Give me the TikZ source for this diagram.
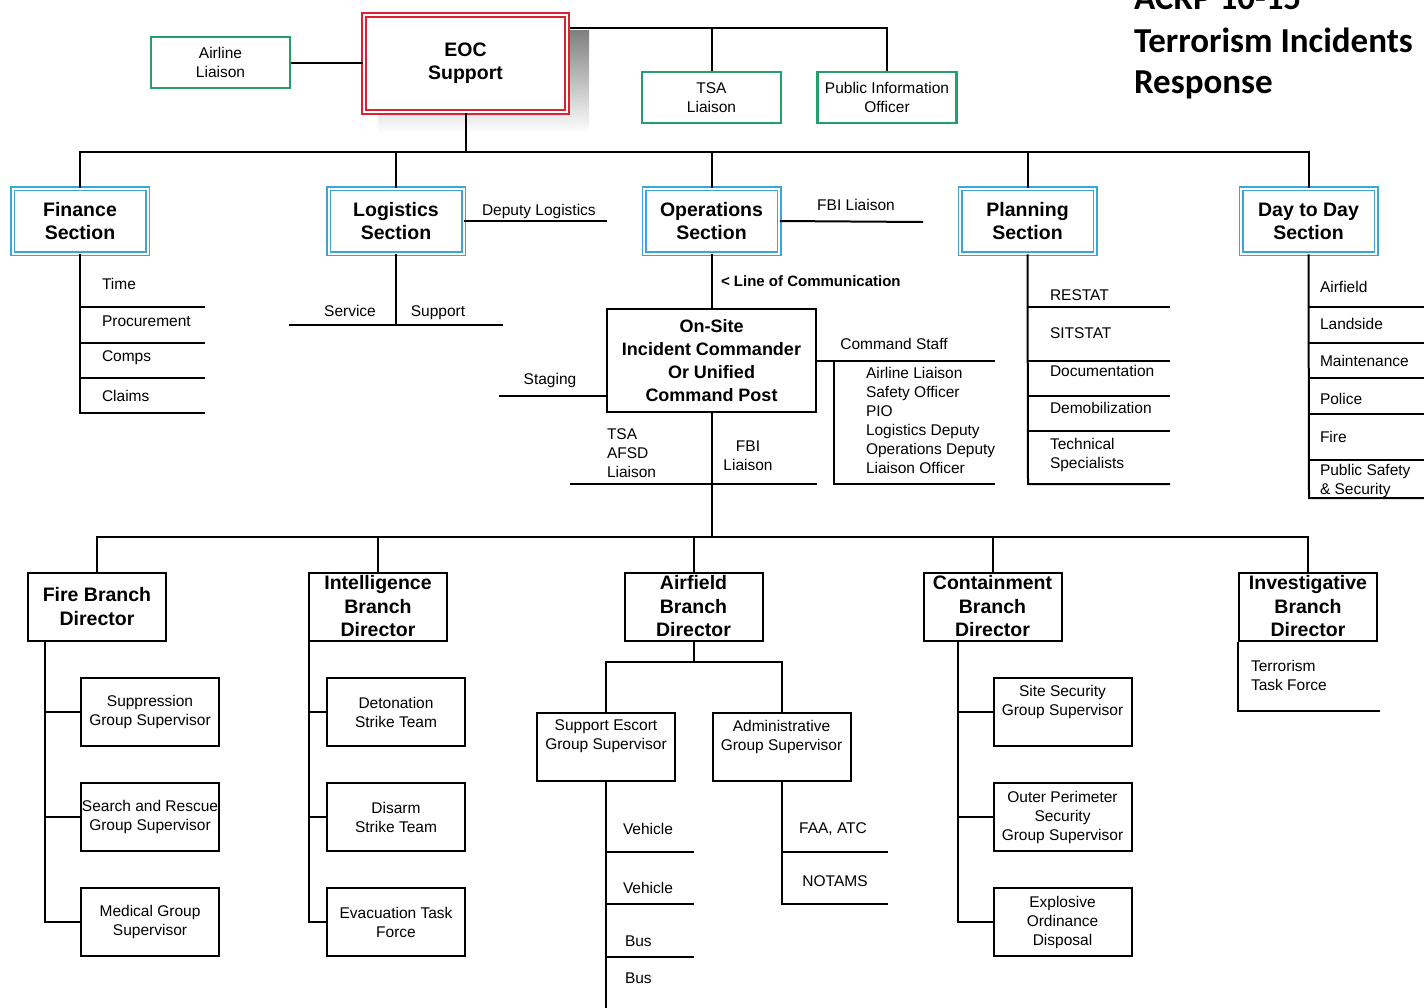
\documentclass[tikz,border=0pt]{standalone}
\usepackage{fontspec}
\setmainfont{Liberation Sans}
\newfontfamily\headfont{Carlito}
\definecolor{secblue}{RGB}{56,166,214}
\definecolor{lgreen}{RGB}{38,158,108}
\definecolor{eocred}{RGB}{214,36,50}
\definecolor{shade}{RGB}{200,200,200}
\begin{document}
\begin{tikzpicture}[x=1pt,y=-1pt,line width=2pt,
  txt/.style={inner sep=0pt,align=center,font=\fontsize{15.5}{19}\selectfont},
  item/.style={txt,anchor=west,align=left},
  plainbox/.style={draw=black,line width=2pt,fill=white,inner sep=0pt,align=center,
    minimum width=138pt,minimum height=68pt,font=\fontsize{15.5}{19}\selectfont},
  branchbox/.style={plainbox,font=\fontsize{19.5}{23.5}\selectfont\bfseries},
  secbox/.style={draw=secblue,double=white,double distance=2pt,line width=1.5pt,
    fill=white,inner sep=0pt,align=center,minimum width=135pt,minimum height=65pt,
    font=\fontsize{19.5}{23}\selectfont\bfseries},
  greenbox/.style={draw=lgreen,line width=2.2pt,fill=white,inner sep=0pt,align=center,
    minimum width=139pt,minimum height=51pt,font=\fontsize{15.5}{19}\selectfont},
  eocbox/.style={draw=eocred,double=white,double distance=2.5pt,line width=1.7pt,
    fill=white,inner sep=0pt,align=center,minimum width=203pt,minimum height=97pt,
    font=\fontsize{19.5}{23}\selectfont\bfseries},
  cmdbox/.style={draw=black,line width=2pt,fill=white,inner sep=0pt,align=center,
    minimum width=209pt,minimum height=103pt,font=\fontsize{18}{23}\selectfont\bfseries},
  title/.style={anchor=base west,inner sep=0pt,font=\headfont\bfseries\fontsize{35}{42}\selectfont}
]
\useasboundingbox (0,0) rectangle (1424,1007);
\clip (0,0) rectangle (1424,1007);

% ---------- title ----------
\node[title] (ttl1) at (1133,9) {ACRP 10-15};
\node[title] (ttl2) at (1133,52) {Terrorism Incidents};
\node[title] (ttl3) at (1133,93) {Response};

% ---------- EOC level ----------
\fill[shade] (378,30) rectangle (589,133);
\node[eocbox] (eoc) at (465.5,63.5) {EOC\\Support};
\node[greenbox] (airl) at (220.5,62.5) {Airline\\Liaison};
\node[greenbox] (tsal) at (711.5,97.5) {TSA\\Liaison};
\node[greenbox] (pio) at (887,97.5) {Public Information\\Officer};
\draw (airl.east) -- (eoc.west |- airl.east);
\coordinate (eocr) at (570,28);
\draw (eocr) -| (pio.north);
\draw (tsal.north) -- (tsal.north |- eocr);

% ---------- sections ----------
\node[secbox] (fin) at (80,221) {Finance\\Section};
\node[secbox] (log) at (396,221) {Logistics\\Section};
\node[secbox] (ops) at (711.5,221) {Operations\\Section};
\node[secbox] (plan) at (1027.5,221) {Planning\\Section};
\node[secbox] (day) at (1308.5,221) {Day to Day\\Section};
\coordinate (secbus) at (465.5,152);
\draw (eoc.south) -- (secbus);
\draw (fin.north) |- (secbus) -| (day.north);
\foreach \n in {log,ops,plan} \draw (\n.north) -- (\n.north |- secbus);

% Finance
\draw (fin.south) -- (80,413) -- (205,413);
\foreach \yy in {307,343,378} \draw (80,\yy) -- (205,\yy);
\node[item] (fin1) at (101,284) {Time};
\node[item] (fin2) at (101,321) {Procurement};
\node[item] (fin3) at (101,358) {Comps};
\node[item] (fin4) at (101,396) {Claims};

% Logistics
\coordinate (depend) at (607,221);
\draw (log.east) -- (depend);
\node[item] (deplog) at (481,211) {Deputy Logistics};
\coordinate (logbar) at (396,325);
\draw (log.south) -- (logbar);
\draw (289,325) -- (503,325);
\node[txt,anchor=base] (serv) at (350,316) {Service};
\node[txt,anchor=base] (supp) at (438,316) {Support};

% Operations
\coordinate (fbiend) at (923,222);
\draw (ops.east) -- (fbiend);
\node[txt] (fbil) at (856,205) {FBI Liaison};
\node[item,font=\fontsize{15}{19}\selectfont\bfseries] (loc) at (720,281) {\textless{} Line of Communication};
\node[cmdbox] (ic) at (711.5,360.5) {On-Site\\Incident Commander\\Or Unified\\Command Post};
\draw (ops.south) -- (ic.north);

% Staging
\draw (ic.west |- 0,396) -- (499,396);
\node[txt] (stag) at (550,380) {Staging};

% Command staff
\draw (ic.east) -- (995,360.5);
\draw (834,360.5) -- (834,484) -- (995,484);
\node[txt] (cstaff) at (894,344) {Command Staff};
\node[item,anchor=north west] (cslist) at (865,366) {Airline Liaison\\Safety Officer\\PIO\\Logistics Deputy\\Operations Deputy\\Liaison Officer};

% below the command post
\coordinate (brbus) at (711.5,537);
\draw (ic.south) -- (brbus);
\draw (570,484) -- (817,484);
\node[item,anchor=north west] (tsaafsd) at (606,428) {TSA\\AFSD\\Liaison};
\node[txt] (fbil2) at (748,456) {FBI\\Liaison};

% Planning
\draw (plan.south) -- (1028,484) -- (1170,484);
\foreach \yy in {307,361,396,431} \draw (1028,\yy) -- (1170,\yy);
\node[item] (pl1) at (1049,295) {RESTAT};
\node[item] (pl2) at (1049,333) {SITSTAT};
\node[item] (pl3) at (1049,371) {Documentation};
\node[item] (pl4) at (1049,408) {Demobilization};
\node[item] (pl5) at (1049,455) {Technical\\Specialists};

% Day to Day
\draw (day.south) -- (1309,498) -- (1424,498);
\foreach \yy in {307,343,378,414,460} \draw (1309,\yy) -- (1424,\yy);
\node[item] (dd1) at (1319,287) {Airfield};
\node[item] (dd2) at (1319,324) {Landside};
\node[item] (dd3) at (1319,361) {Maintenance};
\node[item] (dd4) at (1319,399) {Police};
\node[item] (dd5) at (1319,437) {Fire};
\node[item] (dd6) at (1319,481) {Public Safety\\\& Security};

% ---------- branches ----------
\node[branchbox] (fire) at (97,606.5) {Fire Branch\\Director};
\node[branchbox] (intel) at (378,606.5) {Intelligence\\Branch\\Director};
\node[branchbox] (air) at (693.5,606.5) {Airfield\\Branch\\Director};
\node[branchbox] (cont) at (992.5,606.5) {Containment\\Branch\\Director};
\node[branchbox] (inv) at (1308,606.5) {Investigative\\Branch\\Director};
\draw (fire.north) |- (brbus) -| (inv.north);
\foreach \n in {intel,air,cont} \draw (\n.north) -- (\n.north |- brbus);

% Fire branch
\node[plainbox] (supr) at (150,712) {Suppression\\Group Supervisor};
\node[plainbox] (sar) at (150,817) {Search and Rescue\\Group Supervisor};
\node[plainbox] (med) at (150,922) {Medical Group\\Supervisor};
\draw (45,642) -- (45,922) -- (med.west);
\draw (45,712) -- (supr.west);
\draw (45,817) -- (sar.west);

% Intelligence branch
\node[plainbox] (deto) at (396,712) {Detonation\\Strike Team};
\node[plainbox] (disa) at (396,817) {Disarm\\Strike Team};
\node[plainbox] (evac) at (396,922) {Evacuation Task\\Force};
\draw (309,642) -- (309,922) -- (evac.west);
\draw (309,712) -- (deto.west);
\draw (309,817) -- (disa.west);

% Airfield branch
\node[plainbox] (esc) at (606,746.5) {};
\node[txt] (esct) at (606,736.5) {Support Escort\\Group Supervisor};
\node[plainbox] (adm) at (781.5,746.5) {};
\node[txt] (admt) at (781.5,736.5) {Administrative\\Group Supervisor};
\coordinate (airj) at (693.5,662);
\draw (air.south) -- (airj);
\draw (esc.north) |- (airj) -| (adm.north);
\draw (esc.south) -- (606,1010);
\foreach \yy in {852,904,957} \draw (606,\yy) -- (694,\yy);
\node[item] (v1) at (622,829) {Vehicle};
\node[item] (v2) at (622,888) {Vehicle};
\node[item] (b1) at (624,941) {Bus};
\node[item] (b2) at (624,978) {Bus};
\draw (adm.south) -- (781.5,904) -- (888,904);
\draw (781.5,852) -- (888,852);
\node[txt] (faa) at (833,829) {FAA, ATC};
\node[txt] (nota) at (835,881) {NOTAMS};

% Containment branch
\node[plainbox] (site) at (1062.5,712) {};
\node[txt] (sitet) at (1062.5,701.5) {Site Security\\Group Supervisor};
\node[plainbox] (outr) at (1062.5,817) {Outer Perimeter\\Security\\Group Supervisor};
\node[plainbox] (eod) at (1062.5,922) {Explosive\\Ordinance\\Disposal};
\draw (958,642) -- (958,922) -- (eod.west);
\draw (958,712) -- (site.west);
\draw (958,817) -- (outr.west);

% Investigative branch
\draw (inv.south west) -- (1238,711) -- (1380,711);
\node[item] (ttf) at (1250,675) {Terrorism\\Task Force};
\end{tikzpicture}
\end{document}
